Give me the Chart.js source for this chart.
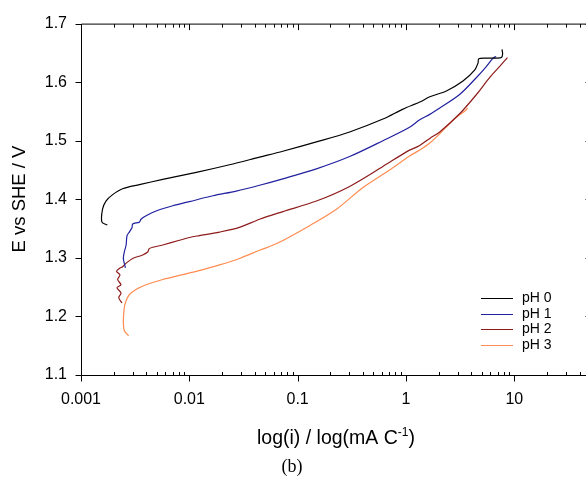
<!DOCTYPE html>
<html>
<head>
<meta charset="utf-8">
<script src="https://cdn.jsdelivr.net/npm/chart.js@4.4.1/dist/chart.umd.min.js"></script>
<style>
  html, body { margin: 0; padding: 0; background: #fff; overflow: hidden; }
  #wrap { position: relative; width: 600px; height: 484px; }
</style>
</head>
<body>
<div id="wrap"><canvas id="polChart" width="600" height="484"></canvas></div>
<script>
//! ======================== Data ============================================
const seriesLabels = ['pH 0', 'pH 1', 'pH 2', 'pH 3'];
const seriesColors = ['#000000', '#2020a0', '#8e1b1b', '#ff8c50'];

// current density (mA C-1) and potential (V vs SHE)
const ph0Current = [0.00175, 0.00156, 0.00158, 0.00170, 0.00196, 0.00242, 0.00346, 0.00568, 0.0116, 0.0235, 0.0445, 0.073, 0.149, 0.302, 0.613, 0.94, 1.34, 1.66, 2.36, 3.36, 4.32, 4.63, 4.7, 5.6, 6.8, 7.6, 7.8, 7.7];
const ph0Potential = [1.356, 1.361, 1.383, 1.397, 1.408, 1.418, 1.425, 1.434, 1.446, 1.459, 1.472, 1.482, 1.498, 1.515, 1.537, 1.554, 1.566, 1.575, 1.585, 1.602, 1.621, 1.633, 1.640, 1.641, 1.641, 1.642, 1.648, 1.656];

const ph1Current = [0.00257, 0.00246, 0.00251, 0.00261, 0.00266, 0.00279, 0.00296, 0.0030, 0.00346, 0.00358, 0.00399, 0.00493, 0.00703, 0.0100, 0.0165, 0.0271, 0.0445, 0.073, 0.149, 0.302, 0.613, 1.08, 1.34, 1.66, 2.05, 3.13, 4.48, 5.54, 6.37, 6.8];
const ph1Potential = [1.283, 1.299, 1.310, 1.322, 1.338, 1.344, 1.352, 1.358, 1.361, 1.366, 1.372, 1.380, 1.389, 1.396, 1.406, 1.414, 1.424, 1.435, 1.452, 1.473, 1.500, 1.523, 1.536, 1.545, 1.556, 1.579, 1.608, 1.627, 1.641, 1.644];

const ph2Current = [0.00239, 0.00223, 0.00234, 0.00215, 0.00234, 0.00218, 0.00229, 0.00213, 0.00226, 0.00242, 0.00261, 0.0030, 0.00371, 0.00413, 0.00428, 0.00568, 0.0081, 0.0107, 0.0124, 0.019, 0.029, 0.0445, 0.073, 0.149, 0.302, 0.613, 1.01, 1.34, 1.66, 2.05, 3.13, 4.48, 5.94, 7.34, 8.65];
const ph2Potential = [1.223, 1.232, 1.240, 1.249, 1.254, 1.263, 1.271, 1.277, 1.282, 1.285, 1.291, 1.299, 1.305, 1.310, 1.316, 1.322, 1.330, 1.336, 1.338, 1.344, 1.352, 1.366, 1.379, 1.397, 1.422, 1.456, 1.481, 1.492, 1.504, 1.515, 1.546, 1.579, 1.608, 1.627, 1.642];

const ph3Current = [0.00275, 0.00251, 0.00246, 0.00251, 0.00260, 0.00279, 0.00322, 0.00399, 0.00568, 0.0081, 0.0116, 0.019, 0.029, 0.0445, 0.0634, 0.129, 0.228, 0.401, 0.706, 1.08, 1.34, 1.66, 2.05, 2.72, 3.61, 3.7];
const ph3Potential = [1.167, 1.176, 1.193, 1.215, 1.226, 1.237, 1.246, 1.254, 1.263, 1.270, 1.277, 1.288, 1.299, 1.313, 1.324, 1.355, 1.383, 1.420, 1.450, 1.474, 1.484, 1.496, 1.512, 1.535, 1.553, 1.556];

const xTickValues = [0.001, 0.01, 0.1, 1, 10];
const xTickLabels = ['0.001', '0.01', '0.1', '1', '10'];
const yTickValues = [1.1, 1.2, 1.3, 1.4, 1.5, 1.6, 1.7];

//! ======================== Helpers ========================
function toPoints(xs, ys) {
    return xs.map((x, i) => ({ x: x, y: ys[i] }));
}

function minorTicks(max) {
    const out = [];
    xTickValues.forEach(d => {
        for (let k = 2; k <= 9; k++) {
            if (k * d <= max) out.push(k * d);
        }
    });
    return out;
}

//! ======================== Frame, titles, legend ========================
const framePlugin = {
    id: 'frame',
    afterDraw(chart) {
        const ctx = chart.ctx;
        const xs = chart.scales.x, ys = chart.scales.y;
        const a = chart.chartArea;
        const L = a.left + 0.5, R = a.right + 0.5, T = a.top + 0.5, B = a.bottom + 0.5;

        ctx.save();
        ctx.strokeStyle = '#000';
        ctx.lineWidth = 1;
        ctx.beginPath();
        ctx.moveTo(L, T); ctx.lineTo(R, T);
        ctx.moveTo(L, T); ctx.lineTo(L, B);
        ctx.moveTo(L, B); ctx.lineTo(R, B);
        ctx.moveTo(R, T); ctx.lineTo(R, B);

        // x major ticks: out at the bottom, in at the top
        xTickValues.forEach(v => {
            const px = Math.round(xs.getPixelForValue(v)) + 0.5;
            ctx.moveTo(px, B); ctx.lineTo(px, B + 6);
            ctx.moveTo(px, T); ctx.lineTo(px, T + 6);
        });
        // x minor ticks: inside on both
        minorTicks(xs.max).forEach(v => {
            const px = Math.round(xs.getPixelForValue(v)) + 0.5;
            ctx.moveTo(px, B); ctx.lineTo(px, B - 3.5);
            ctx.moveTo(px, T); ctx.lineTo(px, T + 3.5);
        });
        // y ticks: out on the left, in on the right
        yTickValues.forEach(v => {
            const py = Math.round(ys.getPixelForValue(v)) + 0.5;
            ctx.moveTo(L, py); ctx.lineTo(L - 6, py);
            ctx.moveTo(R, py); ctx.lineTo(R - 5, py);
        });
        ctx.stroke();

        // y title
        ctx.fillStyle = '#000';
        ctx.font = '18.5px "Liberation Sans", Arial, sans-serif';
        ctx.textAlign = 'center';
        ctx.textBaseline = 'middle';
        ctx.save();
        ctx.translate(20, 199);
        ctx.rotate(-Math.PI / 2);
        ctx.fillText('E vs SHE / V', 0, 0);
        ctx.restore();

        // x title with superscript
        const main = 'log(i) / log(mA C';
        const sup = '-1';
        const close = ')';
        ctx.textAlign = 'left';
        ctx.textBaseline = 'alphabetic';
        ctx.font = '19.5px "Liberation Sans", Arial, sans-serif';
        const wMain = ctx.measureText(main).width;
        const wClose = ctx.measureText(close).width;
        ctx.font = '12px "Liberation Sans", Arial, sans-serif';
        const wSup = ctx.measureText(sup).width;
        let tx = 336 - (wMain + wSup + wClose) / 2;
        const base = 444;
        ctx.font = '19.5px "Liberation Sans", Arial, sans-serif';
        ctx.fillText(main, tx, base);
        tx += wMain;
        ctx.font = '12px "Liberation Sans", Arial, sans-serif';
        ctx.fillText(sup, tx, base - 8);
        tx += wSup;
        ctx.font = '19.5px "Liberation Sans", Arial, sans-serif';
        ctx.fillText(close, tx, base);

        // caption
        ctx.font = '18px "Liberation Serif", "Times New Roman", serif';
        ctx.textAlign = 'center';
        ctx.fillText('(b)', 292, 472);

        // legend
        ctx.font = '14px "Liberation Sans", Arial, sans-serif';
        ctx.textAlign = 'left';
        ctx.textBaseline = 'middle';
        chart.data.datasets.forEach((ds, i) => {
            const ly = Math.round(298 + i * 15.5) + 0.5;
            ctx.strokeStyle = ds.borderColor;
            ctx.lineWidth = 1;
            ctx.beginPath();
            ctx.moveTo(481, ly); ctx.lineTo(513, ly);
            ctx.stroke();
            ctx.fillStyle = '#000';
            ctx.fillText(ds.label, 522, ly);
        });
        ctx.restore();
    }
};

//! ======================== Chart ========================
const currents = [ph0Current, ph1Current, ph2Current, ph3Current];
const potentials = [ph0Potential, ph1Potential, ph2Potential, ph3Potential];

const datasets = seriesLabels.map((label, i) => ({
    label: label,
    data: toPoints(currents[i], potentials[i]),
    borderColor: seriesColors[i],
    backgroundColor: seriesColors[i],
    borderWidth: 1.2,
    pointRadius: 0,
    showLine: true,
    tension: 0.3
}));

const ctx = document.getElementById('polChart').getContext('2d');
new Chart(ctx, {
    type: 'scatter',
    data: { datasets: datasets },
    options: {
        responsive: false,
        animation: false,
        devicePixelRatio: 1,
        layout: { padding: { top: 18, right: 10, left: 0, bottom: 0 } },
        plugins: {
            legend: { display: false },
            tooltip: { enabled: false },
            title: { display: false }
        },
        scales: {
            x: {
                type: 'logarithmic',
                min: 0.001,
                max: 50,
                grid: { display: false, drawTicks: false },
                border: { display: false },
                afterBuildTicks: scale => {
                    scale.ticks = xTickValues.map(v => ({ value: v }));
                },
                afterFit: scale => { scale.height = 109; },
                ticks: {
                    autoSkip: false,
                    maxRotation: 0,
                    padding: 15,
                    color: '#000',
                    font: { family: '"Liberation Sans", Arial, sans-serif', size: 16 },
                    callback: (v, i) => xTickLabels[i]
                }
            },
            y: {
                type: 'linear',
                min: 1.1,
                max: 1.7,
                grid: { display: false, drawTicks: false },
                border: { display: false },
                afterBuildTicks: scale => {
                    scale.ticks = yTickValues.map(v => ({ value: v }));
                },
                afterFit: scale => { scale.width = 81; },
                ticks: {
                    padding: 14,
                    color: '#000',
                    font: { family: '"Liberation Sans", Arial, sans-serif', size: 16 },
                    callback: v => v.toFixed(1)
                }
            }
        }
    },
    plugins: [framePlugin]
});
</script>
</body>
</html>
